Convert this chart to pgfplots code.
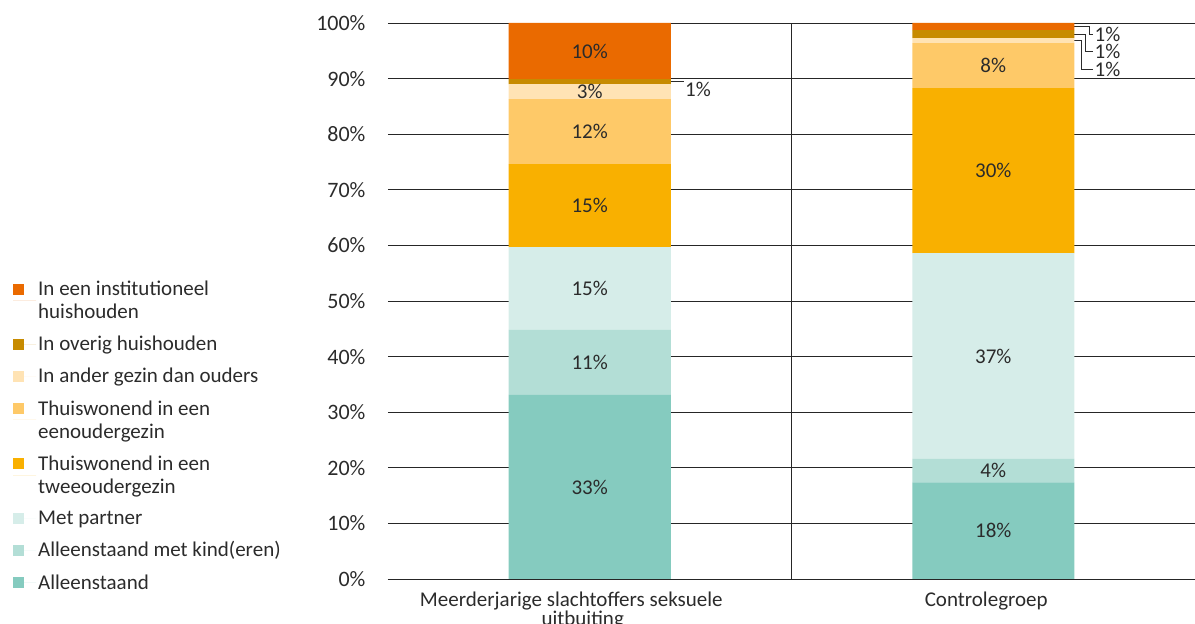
\documentclass[border=0pt]{standalone}
\usepackage{pgfplots}
\pgfplotsset{compat=1.18}
\usepackage{fontspec}
\setmainfont{Carlito}
\definecolor{cA}{HTML}{85CBBF}
\definecolor{cB}{HTML}{B3DED6}
\definecolor{cC}{HTML}{D6EDE9}
\definecolor{cD}{HTML}{F9B000}
\definecolor{cE}{HTML}{FEC968}
\definecolor{cF}{HTML}{FFE3B4}
\definecolor{cG}{HTML}{C78B00}
\definecolor{cH}{HTML}{EA6A00}
\definecolor{txt}{HTML}{2B2B2B}
\pgfplotsset{
  oneline/.style={legend image code/.code={\fill[##1,draw=none] (0pt,-5.5pt) rectangle (11pt,5.5pt); \path (0pt,0pt) -- (23pt,0pt);}},
  twoline/.style={legend image code/.code={\fill[##1,draw=none] (0pt,6pt) rectangle (11pt,17pt); \path (0pt,0pt) -- (23pt,0pt);}},
}
\begin{document}
\begin{tikzpicture}[x=1pt,y=1pt]
\useasboundingbox (0,0) rectangle (1195,624);
\begin{axis}[
  at={(388pt,45pt)}, anchor=south west,
  scale only axis, width=807pt, height=556pt,
  xmin=0, xmax=2, ymin=0, ymax=100,
  ybar stacked, bar width=162pt,
  xtick={0.5,1.5},
  xticklabels={{Meerderjarige slachtoffers seksuele\hspace*{37pt}\\uitbuiting\hspace*{14pt}},{Controlegroep\hspace*{14pt}}},
  x tick label style={align=center, font=\fontsize{21}{19}\selectfont, text=txt, yshift=-9pt},
  ytick={0,10,...,100},
  yticklabels={0\%,10\%,20\%,30\%,40\%,50\%,60\%,70\%,80\%,90\%,100\%},
  y tick label style={font=\fontsize{22}{22}\selectfont, text=txt, xshift=-19pt},
  major tick length=0pt,
  ymajorgrids, grid style={black!85, line width=0.9pt},
  axis x line*=bottom, axis y line*=left,
  y axis line style={draw=none},
  x axis line style={black!85, line width=0.9pt, -},
  point meta=explicit symbolic,
  nodes near coords={\pgfplotspointmeta},
  every node near coord/.append style={anchor=center, font=\fontsize{21}{21}\selectfont, text=txt},
  reverse legend,
  legend cell align=left,
  legend style={at={(rel axis cs:0,1)}, anchor=north west, xshift=-378pt, yshift=-254pt,
    draw=none, fill=none, font=\fontsize{21}{23}\selectfont, text=txt,
    cells={align=left}, row sep=12pt},
]
\addplot[fill=cA, draw=none, oneline] coordinates {(0.5,33.1) [33\%] (1.5,17.4) [18\%]};
\addlegendentry{Alleenstaand}
\addplot[fill=cB, draw=none, oneline] coordinates {(0.5,11.7) [11\%] (1.5,4.2) [4\%]};
\addlegendentry{Alleenstaand met kind(eren)}
\addplot[fill=cC, draw=none, oneline] coordinates {(0.5,14.9) [15\%] (1.5,37.0) [37\%]};
\addlegendentry{Met partner}
\addplot[fill=cD, draw=none, twoline] coordinates {(0.5,14.9) [15\%] (1.5,29.7) [30\%]};
\addlegendentry{Thuiswonend in een\\tweeoudergezin}
\addplot[fill=cE, draw=none, twoline] coordinates {(0.5,11.7) [12\%] (1.5,8.1) [8\%]};
\addlegendentry{Thuiswonend in een\\eenoudergezin}
\addplot[fill=cF, draw=none, oneline] coordinates {(0.5,2.7) [3\%] (1.5,0.9) [{}]};
\addlegendentry{In ander gezin dan ouders}
\addplot[fill=cG, draw=none, oneline] coordinates {(0.5,0.9) [{}] (1.5,1.4) [{}]};
\addlegendentry{In overig huishouden}
\addplot[fill=cH, draw=none, twoline] coordinates {(0.5,10.1) [10\%] (1.5,1.3) [{}]};
\addlegendentry{In een institutioneel\\huishouden}
\draw[black!85, line width=0.9pt] (axis cs:1,0) -- (axis cs:1,100);
\draw[txt, line width=0.9pt] ([xshift=81pt]axis cs:0.5,89.45) -- ++(13pt,0pt)
  node[anchor=north west, inner sep=0pt, xshift=1pt, yshift=0pt, font=\fontsize{21}{21}\selectfont] {1\%};
\draw[txt, line width=0.9pt] ([xshift=81pt]axis cs:1.5,99.35) -- ++(15pt,0pt) |- ([xshift=100pt]axis cs:1.5,98.0)
  node[right, inner sep=1pt, font=\fontsize{21}{21}\selectfont] {1\%};
\draw[txt, line width=0.9pt] ([xshift=81pt]axis cs:1.5,98.0) -- ++(11pt,0pt) |- ([xshift=100pt]axis cs:1.5,94.9)
  node[right, inner sep=1pt, font=\fontsize{21}{21}\selectfont] {1\%};
\draw[txt, line width=0.9pt] ([xshift=81pt]axis cs:1.5,96.85) -- ++(7pt,0pt) |- ([xshift=100pt]axis cs:1.5,91.7)
  node[right, inner sep=1pt, font=\fontsize{21}{21}\selectfont] {1\%};
\end{axis}
\end{tikzpicture}
\end{document}
